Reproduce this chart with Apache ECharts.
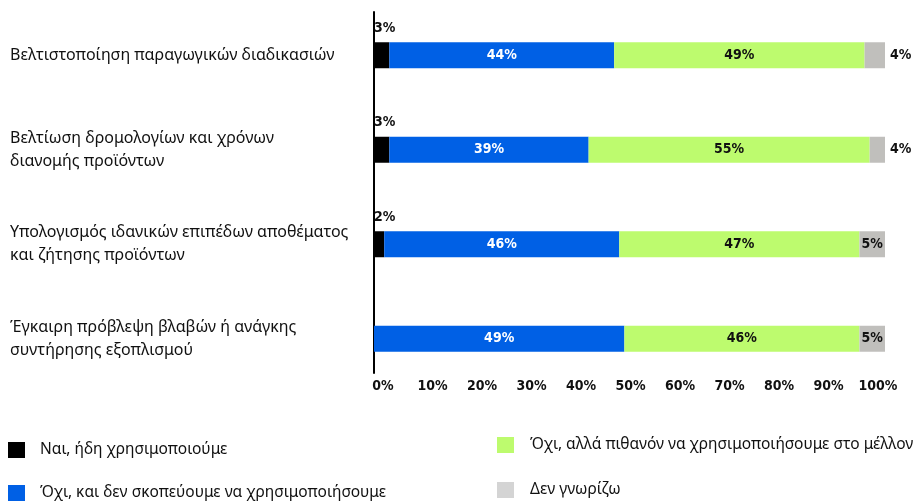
<!DOCTYPE html>
<html>
<head>
<meta charset="utf-8">
<script src="https://cdn.jsdelivr.net/npm/echarts@6/dist/echarts.min.js"></script>
<style>
html,body{margin:0;padding:0;background:#fff;}
#chart{width:921px;height:501px;}
</style>
</head>
<body>
<div id="chart"></div>
<script>
const categories = [
  'Βελτιστοποίηση παραγωγικών διαδικασιών',
  'Βελτίωση δρομολογίων και χρόνων\nδιανομής προϊόντων',
  'Υπολογισμός ιδανικών επιπέδων αποθέματος\nκαι ζήτησης προϊόντων',
  'Έγκαιρη πρόβλεψη βλαβών ή ανάγκης\nσυντήρησης εξοπλισμού'
];
const seriesNames = [
  'Ναι, ήδη χρησιμοποιούμε',
  'Όχι, και δεν σκοπεύουμε να χρησιμοποιήσουμε',
  'Όχι, αλλά πιθανόν να χρησιμοποιήσουμε στο μέλλον',
  'Δεν γνωρίζω'
];
const yesValues = [3, 3, 2, 0];
const noNeverValues = [44, 39, 46, 49];
const maybeValues = [49, 55, 47, 46];
const dontKnowValues = [4, 4, 5, 5];
const xTickValues = [0, 10, 20, 30, 40, 50, 60, 70, 80, 90, 100];

const colors = ['#000000', '#0060e5', '#bdfb6e', '#c0bfbc'];
const legendColors = ['#000000', '#0060e5', '#bdfb6e', '#d4d4d4'];
const labelFont = '"DejaVu Sans Condensed", "Liberation Sans Narrow", sans-serif';
const textFont = '"Noto Sans", "DejaVu Sans", sans-serif';

const pct = p => (p.value ? p.value + '%' : '');

const baseLabel = {
  show: true,
  formatter: pct,
  fontFamily: labelFont,
  fontWeight: 'bold',
  fontSize: 14
};

const series = [
  {
    name: seriesNames[0], type: 'bar', stack: 'total', barWidth: 26,
    xAxisIndex: 0, yAxisIndex: 0,
    itemStyle: { color: colors[0] },
    label: Object.assign({}, baseLabel, { position: [0, -7], align: 'left', verticalAlign: 'bottom', color: '#111' }),
    data: yesValues
  },
  {
    name: seriesNames[1], type: 'bar', stack: 'total', barWidth: 26,
    xAxisIndex: 0, yAxisIndex: 0,
    itemStyle: { color: colors[1] },
    label: Object.assign({}, baseLabel, { position: 'inside', color: '#ffffff' }),
    data: noNeverValues
  },
  {
    name: seriesNames[2], type: 'bar', stack: 'total', barWidth: 26,
    xAxisIndex: 0, yAxisIndex: 0,
    itemStyle: { color: colors[2] },
    label: Object.assign({}, baseLabel, { position: 'inside', color: '#111' }),
    data: maybeValues
  },
  {
    name: seriesNames[3], type: 'bar', stack: 'total', barWidth: 26,
    xAxisIndex: 0, yAxisIndex: 0,
    itemStyle: { color: colors[3] },
    label: Object.assign({}, baseLabel, { position: 'inside', color: '#111' }),
    data: dontKnowValues.map(v => v < 5
      ? { value: v, label: { position: 'right', distance: 5 } }
      : v)
  }
];

const legendPos = [
  { left: 8, top: 442, pad: 10 },
  { left: 8, top: 485, pad: 10 },
  { left: 497, top: 437, pad: 11 },
  { left: 497, top: 482, pad: 11 }
];
const legends = seriesNames.map((name, i) => ({
  left: legendPos[i].left, top: legendPos[i].top, padding: 0,
  itemWidth: 17, itemHeight: 16, itemGap: 0, icon: 'rect',
  data: [{ name: name, itemStyle: { color: legendColors[i] } }],
  textStyle: { fontFamily: textFont, fontSize: 15.5, color: '#111', padding: [0, 0, 0, legendPos[i].pad] }
}));

const chart = echarts.init(document.getElementById('chart'), null, { renderer: 'canvas' });
chart.setOption({
  animation: false,
  backgroundColor: '#ffffff',
  grid: [
    { left: 374, right: 36, top: 8, height: 378 },
    { left: 383, right: 43, top: 12, height: 361 }
  ],
  xAxis: [
    { gridIndex: 0, type: 'value', min: 0, max: 100, interval: 10,
      axisLine: { show: false }, axisTick: { show: false },
      axisLabel: { show: false }, splitLine: { show: false } },
    { gridIndex: 1, type: 'value', min: 0, max: 100, interval: 10,
      axisLine: { show: false }, axisTick: { show: false }, splitLine: { show: false },
      axisLabel: {
        margin: 6, fontFamily: labelFont, fontWeight: 'bold', fontSize: 14, color: '#111',
        formatter: v => (xTickValues.indexOf(v) >= 0 ? v + '%' : '')
      } }
  ],
  yAxis: [
    { gridIndex: 0, type: 'category', inverse: true, data: categories,
      axisLine: { show: false }, axisTick: { show: false }, splitLine: { show: false },
      axisLabel: { align: 'left', margin: 364, fontFamily: textFont, fontSize: 16,
        lineHeight: 23, color: '#111' } },
    { gridIndex: 1, type: 'value', min: 0, max: 1, offset: 9,
      axisLine: { show: true, onZero: false, lineStyle: { color: '#000', width: 2 } },
      axisTick: { show: false }, axisLabel: { show: false }, splitLine: { show: false } }
  ],
  legend: legends,
  series: series
});
</script>
</body>
</html>
